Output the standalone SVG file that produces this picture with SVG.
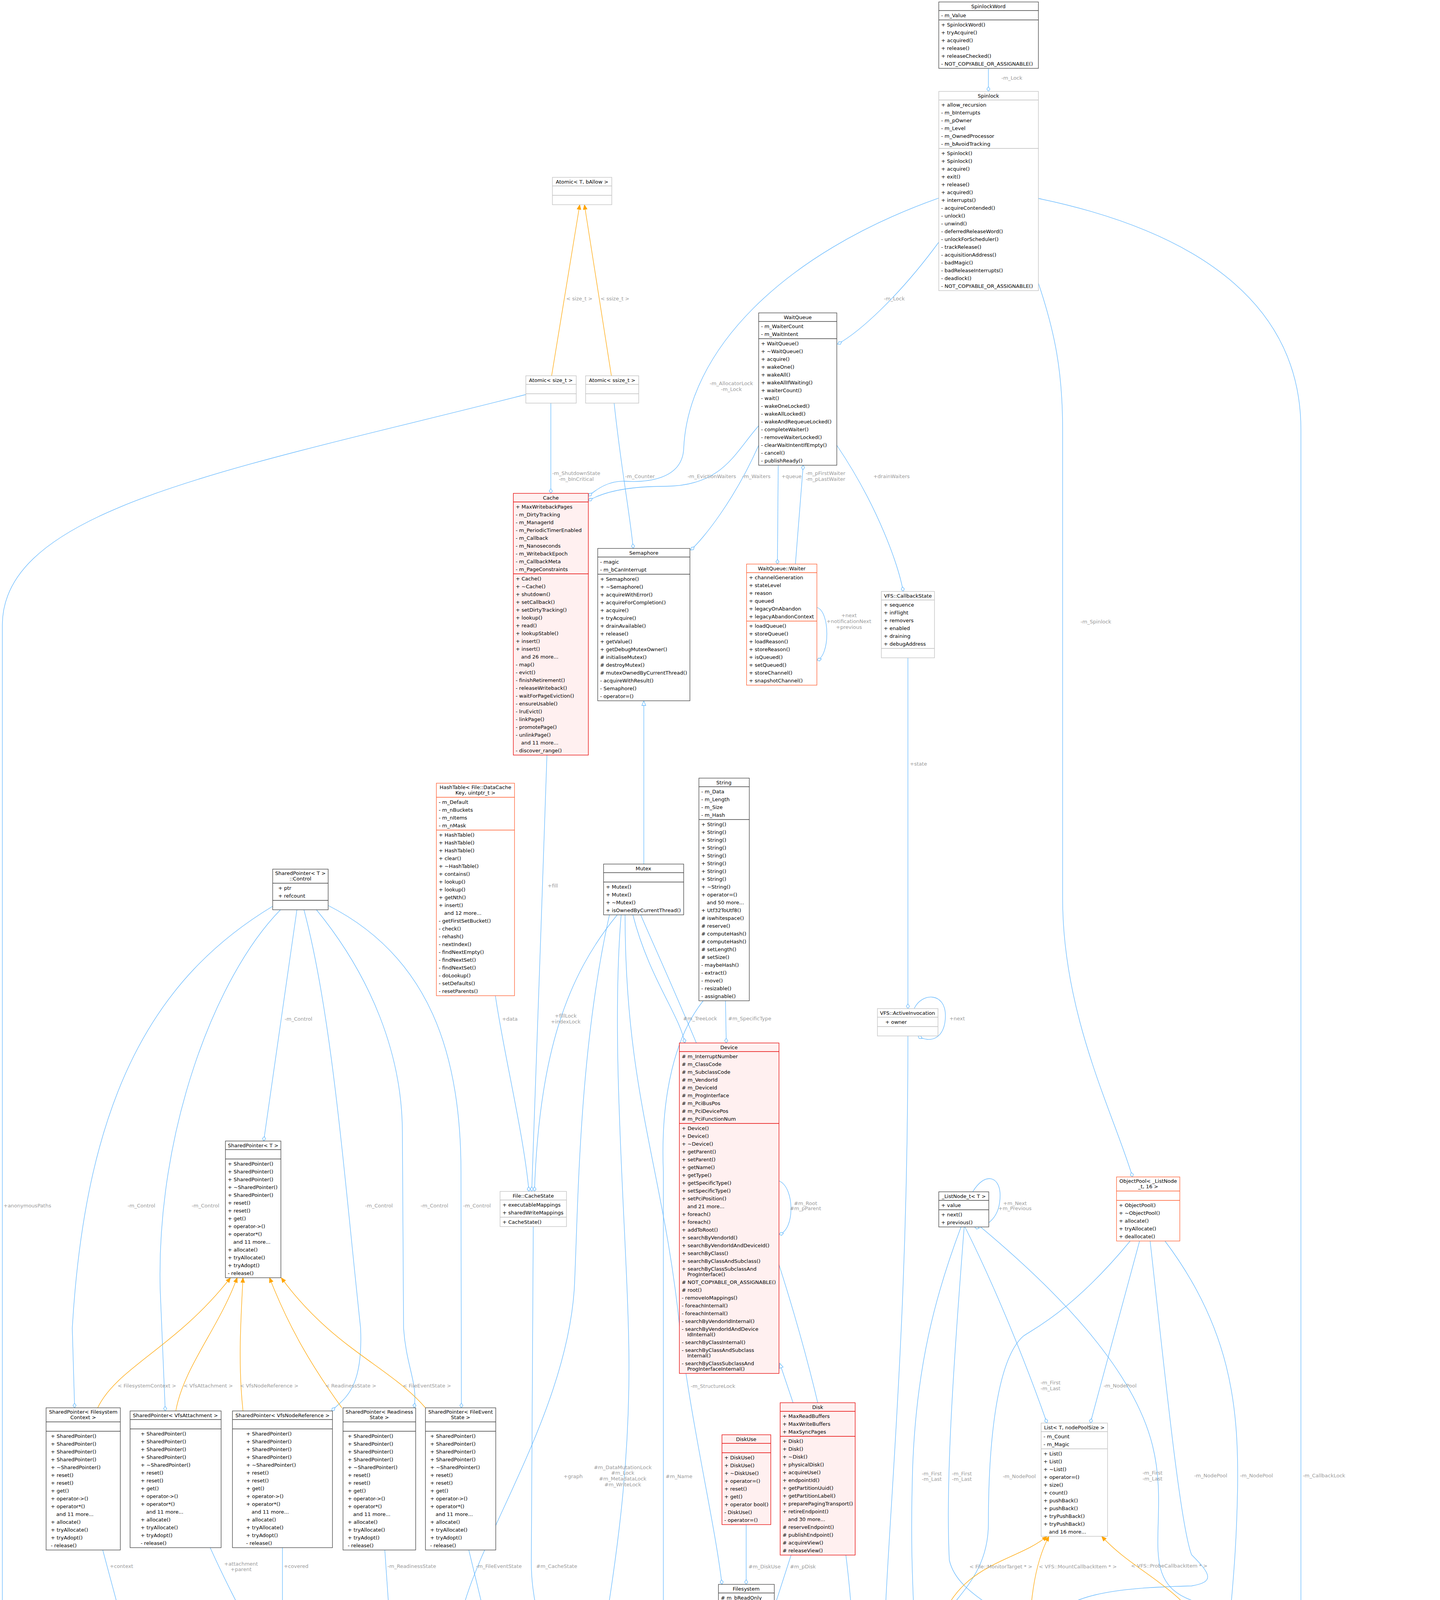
<svg xmlns="http://www.w3.org/2000/svg" width="3686" height="7781" viewBox="0 0 3686 7781">
<style>
text{font-family:"DejaVu Sans","Liberation Sans",sans-serif;font-size:13px;fill:#000}
.h{text-anchor:middle}
.nd rect{fill:#fff;stroke:#404040;stroke-width:1.3}
.nd path{fill:none;stroke:#404040;stroke-width:1.3}
.lt rect,.lt path{stroke:#bfbfbf}
.rd rect{fill:#fff0f0;stroke:#e60000}
.rd path{stroke:#e60000}
.or rect{fill:#fff;stroke:#ff5c2e}
.or path{stroke:#ff5c2e}
.gr rect{fill:#999;stroke:#666}
.gr path{stroke:#666}
#edges path{fill:none;stroke:#63b8ff;stroke-width:1.3}
#edges path.c{marker-end:url(#dia)}
#edges path.t{stroke:#ffa500;marker-end:url(#arr)}
#edges path.i{marker-end:url(#tri)}
#labels text{fill:#9a9a9a;text-anchor:middle}
</style>
<defs>
<marker id="dia" markerUnits="userSpaceOnUse" markerWidth="14" markerHeight="10" refX="13" refY="5" orient="auto"><path d="M1,5 L7,1 L13,5 L7,9 z" fill="#fff" stroke="#63b8ff" stroke-width="1.3"/></marker>
<marker id="arr" markerUnits="userSpaceOnUse" markerWidth="14" markerHeight="12" refX="13" refY="6" orient="auto"><path d="M1,1 L13,6 L1,11 z" fill="#ffa500" stroke="#ffa500"/></marker>
<marker id="tri" markerUnits="userSpaceOnUse" markerWidth="14" markerHeight="12" refX="13" refY="6" orient="auto"><path d="M1,1 L13,6 L1,11 z" fill="#fff" stroke="#63b8ff" stroke-width="1.3"/></marker>
</defs>
<rect width="3686" height="7781" fill="#fff"/>

<g id="edges">
<path class="c" d="M2530,175 L2530,234"/>
<path class="c" d="M2403,620 C2300,760 2200,850 2144,881"/>
<path class="c" d="M2403,507 C2000,650 1760,900 1750,1150 C1745,1230 1650,1235 1600,1232 C1560,1230 1530,1250 1506,1270"/>
<path class="c" d="M2658,725 C2700,850 2720,950 2720,1100 L2720,2300 C2720,2600 2850,2850 2899,3013"/>
<path class="c" d="M2658,508 C3100,600 3330,800 3330,1100 L3330,6800 C3330,7000 2700,7200 2394,7250"/>
<path class="t" d="M1412,962 L1484,524"/>
<path class="t" d="M1565,962 L1496,524"/>
<path class="c" d="M1410,1032 L1410,1263"/>
<path class="c" d="M1572,1032 C1590,1200 1610,1300 1621,1404"/>
<path class="c" d="M1942,1090 C1880,1160 1850,1245 1700,1245 C1600,1245 1540,1262 1506,1282"/>
<path class="c" d="M1942,1140 C1880,1280 1800,1380 1768,1408"/>
<path class="c" d="M1992,1191 L1990,1444"/>
<path class="c" d="M2036,1444 L2056,1191"/>
<path class="c" d="M2142,1140 C2250,1300 2300,1450 2312,1514"/>
<path class="c" d="M2091,1555 C2125,1565 2125,1680 2091,1690"/>
<path class="c" d="M2324,1684 L2324,2582"/>
<path class="c" d="M2340,2582 C2360,2540 2420,2540 2420,2600 C2420,2660 2380,2672 2350,2652"/>
<path class="i" d="M1648,2212 L1648,1794"/>
<path class="c" d="M1400,1933 C1390,2300 1370,2700 1361,3050"/>
<path class="c" d="M1580,2342 C1450,2500 1380,2700 1368,3050"/>
<path class="c" d="M1268,2549 C1290,2700 1340,2900 1354,3050"/>
<path class="c" d="M1365,3140 L1360,4000 C1360,4200 1470,4300 1477,4687"/>
<path class="c" d="M1620,2342 C1660,2500 1740,2600 1753,2670"/>
<path class="c" d="M1857,2562 L1859,2670"/>
<path class="c" d="M1994,3023 C2035,3040 2035,3150 1994,3160"/>
<path class="i" d="M2030,3591 L1996,3490"/>
<path class="c" d="M1600,2342 C1600,2800 1700,3000 1740,3400 C1770,3650 1830,3900 1848,4056"/>
<path class="c" d="M1910,3903 L1910,4056"/>
<path class="c" d="M2025,3981 L1984,4108"/>
<path class="c" d="M1800,2562 C1730,2650 1690,2800 1698,3000 L1698,4300 C1698,4600 1640,4800 1605,4864"/>
<path class="c" d="M1839,4440 C1780,4550 1680,4780 1605,4950"/>
<path class="c" d="M2314,4370 C2100,4500 1800,4700 1605,5038"/>
<path class="c" d="M1603,5092 C1632,5110 1632,5240 1603,5260"/>
<path class="c" d="M1590,2342 C1560,2700 1610,3200 1610,3500 C1610,4000 1500,4300 1491,4687"/>
<path class="c" d="M760,2329 L675,2921"/>
<path class="c" d="M698,2320 C400,2500 220,2800 185,3400 L191,3604"/>
<path class="c" d="M718,2329 C550,2500 400,2900 410,3300 L423,3612"/>
<path class="c" d="M778,2329 C850,2600 880,3000 923,3400 C930,3560 880,3580 849,3612"/>
<path class="c" d="M810,2329 C950,2500 1030,2700 1030,2900 L1033,3400 C1040,3500 1070,3540 1060,3604"/>
<path class="c" d="M840,2318 C1100,2450 1180,2700 1180,3000 L1181,3604"/>
<path class="t" d="M250,3604 C300,3500 450,3450 590,3271"/>
<path class="t" d="M450,3612 C470,3500 560,3400 607,3271"/>
<path class="t" d="M622,3612 C610,3500 615,3400 622,3271"/>
<path class="t" d="M875,3604 C800,3500 740,3400 690,3271"/>
<path class="t" d="M1089,3604 C1000,3500 850,3450 720,3271"/>
<path class="c" d="M263,3968 L348,4285"/>
<path class="c" d="M538,3962 C600,4100 660,4200 700,4285"/>
<path class="c" d="M723,3962 L723,4285"/>
<path class="c" d="M985,3968 L1002,4215"/>
<path class="c" d="M1200,3968 L1250,4175"/>
<path class="c" d="M378,4285 C400,4255 440,4255 440,4315 C440,4380 400,4378 380,4355"/>
<path class="c" d="M743,4285 C765,4255 815,4255 815,4315 C815,4380 765,4378 745,4355"/>
<path class="c" d="M378,4355 C450,4500 600,4750 712,5016"/>
<path class="c" d="M725,4355 L767,5016"/>
<path class="c" d="M1346,1010 C600,1200 6,1300 6,1600 L6,4300 C6,4600 300,4900 704,5137"/>
<path class="c" d="M1560,2342 C1480,2700 1480,3100 1470,3300 C1450,3600 1250,3900 1190,4100 C1130,4300 1050,4600 854,5060"/>
<path class="i" d="M1398,4740 C1250,4600 1120,4500 1070,4425"/>
<path class="i" d="M1400,4700 C1370,4600 1350,4520 1335,4465"/>
<path class="c" d="M777,5346 C800,5800 900,6200 1148,6500"/>
<path class="c" d="M1172,6205 C1100,6000 950,5600 843,5346"/>
<path class="c" d="M2164,7240 C1700,7150 1400,6900 1309,6480"/>
<path class="c" d="M1188,6515 C1180,6800 1700,7200 2164,7262"/>
<path class="c" d="M1470,5677 C1470,6400 1700,7000 2164,7220"/>
<path class="c" d="M1556,5677 L1583,5914"/>
<path class="c" d="M1690,6684 C1620,6500 1583,6300 1583,6004"/>
<path class="c" d="M1605,6004 C1650,6300 1720,6500 1724,6684"/>
<path class="t" d="M1756,6684 L1797,6036"/>
<path class="c" d="M1766,6848 C1850,7100 2050,7200 2164,7280"/>
<path class="c" d="M1942,4586 C1975,4700 1976,5000 1976,6000 L1976,6900 C1976,7000 2100,7050 2164,7080"/>
<path class="c" d="M1640,2342 C1750,2600 2186,3500 2186,4300 L2186,6800 C2186,6950 2206,7000 2206,7055"/>
<path class="c" d="M2324,2652 C2324,3500 2260,4000 2262,4300 C2265,4500 2413,4600 2413,4820 C2413,5000 2377,5100 2377,5300 L2370,6800 C2368,6950 2352,7000 2352,7055"/>
<path class="c" d="M2610,4471 C2560,4900 2540,5300 2540,6500 C2540,6900 2440,7100 2394,7220"/>
<path class="c" d="M2750,6880 C2600,7000 2450,7150 2394,7276"/>
<path class="c" d="M3110,4469 L3100,6500 C3100,6900 2700,7200 2394,7380"/>
<path class="c" d="M3440,6861 C3400,7100 2800,7300 2394,7398"/>
<path class="c" d="M2394,7350 C2422,7370 2422,7460 2394,7475"/>
<path class="t" d="M2750,6600 C2700,6400 2700,6300 2716,6184"/>
<path class="t" d="M3475,6671 L3578,6052"/>
<path class="c" d="M3462,5243 L3577,5862"/>
<path class="c" d="M3448,5243 C3440,5600 3440,6300 3455,6671"/>
<path class="c" d="M2830,4375 L2897,5097"/>
<path class="c" d="M2810,4375 C2760,4600 2740,4800 2740,5200 C2740,5500 2755,5700 2760,5734"/>
<path class="c" d="M2865,4375 C2950,4500 3000,4600 3025,4700 C3050,5000 3030,5800 3030,6000 C3030,6300 2980,6450 2936,6533"/>
<path class="c" d="M2890,5267 L2815,5734"/>
<path class="c" d="M2912,5267 C2950,5600 2950,6000 2910,6533"/>
<path class="c" d="M2900,4290 C2950,4250 2975,4320 2950,4360 C2925,4385 2900,4378 2880,4375"/>
<path class="c" d="M2470,3141 C2550,3300 2630,3500 2680,3643"/>
<path class="c" d="M2460,3141 C2400,3300 2340,3500 2335,3800 C2330,4000 2340,4100 2340,4173"/>
<path class="c" d="M2468,3141 C2440,3500 2420,3800 2430,3994 C2450,4080 2560,4110 2596,4167"/>
<path class="c" d="M2510,3141 C2700,3300 2900,3500 2950,3700 C3000,3900 2900,4050 3060,4100 C3120,4120 3110,4140 3115,4165"/>
<path class="c" d="M2490,3051 C2520,3000 2560,3010 2560,3060 C2560,3130 2510,3145 2495,3141"/>
<path class="c" d="M2917,3177 L2791,3643"/>
<path class="c" d="M2893,3177 C2750,3350 2650,3400 2620,3420 C2550,3480 2530,3700 2530,3900 C2530,4050 2420,4100 2402,4173"/>
<path class="c" d="M2982,3177 C3150,3400 3170,3600 3168,3800 C3165,4000 3150,4100 3147,4165"/>
<path class="c" d="M2944,3177 C2980,3500 3020,3900 3050,3980 C3100,4030 3110,4050 3050,4060 C2850,4065 2720,4080 2673,4167"/>
<path class="t" d="M2400,4173 C2450,4000 2600,4000 2680,3933"/>
<path class="t" d="M2636,4167 C2640,4050 2660,3980 2685,3933"/>
<path class="t" d="M3082,4165 C3000,4050 2900,4020 2820,3933"/>
</g>

<g id="labels">
<text x="2590" y="204">-m_Lock</text>
<text x="2289" y="769">-m_Lock</text>
<text x="1872" y="986">-m_AllocatorLock</text><text x="1872" y="1001">-m_Lock</text>
<text x="2805" y="1596">-m_Spinlock</text>
<text x="3389" y="3782">-m_CallbackLock</text>
<text x="1483" y="769">&lt; size_t &gt;</text>
<text x="1574" y="769">&lt; ssize_t &gt;</text>
<text x="1475" y="1216">-m_ShutdownState</text><text x="1475" y="1231">-m_bInCritical</text>
<text x="1638" y="1224">-m_Counter</text>
<text x="1822" y="1224">-m_EvictionWaiters</text>
<text x="1936" y="1224">-m_Waiters</text>
<text x="2026" y="1224">+queue</text>
<text x="2113" y="1216">-m_pFirstWaiter</text><text x="2113" y="1231">-m_pLastWaiter</text>
<text x="2282" y="1224">+drainWaiters</text>
<text x="2173" y="1580">+next</text><text x="2173" y="1595">+notificationNext</text><text x="2173" y="1610">+previous</text>
<text x="2351" y="1960">+state</text>
<text x="2450" y="2612">+next</text>
<text x="1415" y="2272">+fill</text>
<text x="1448" y="2605">+fillLock</text><text x="1448" y="2620">+indexLock</text>
<text x="1305" y="2613">+data</text>
<text x="1425" y="4014">#m_CacheState</text>
<text x="1792" y="2612">#m_TreeLock</text>
<text x="1919" y="2612">#m_SpecificType</text>
<text x="2062" y="3085">#m_Root</text><text x="2062" y="3098">#m_pParent</text>
<text x="1825" y="3553">-m_StructureLock</text>
<text x="1957" y="4015">#m_DiskUse</text>
<text x="2055" y="4015">#m_pDisk</text>
<text x="1738" y="3784">#m_Name</text>
<text x="1594" y="3761">#m_DataMutationLock</text><text x="1594" y="3775">#m_Lock</text><text x="1594" y="3790">#m_MetadataLock</text><text x="1594" y="3805">#m_WriteLock</text>
<text x="1467" y="3784">+graph</text>
<text x="1822" y="4632">#m_pFilesystem</text>
<text x="2090" y="4632">#m_MonitorTargets</text>
<text x="1702" y="5171">#m_pDetachedParent</text><text x="1702" y="5185">#m_pParent</text>
<text x="764" y="2613">-m_Control</text>
<text x="362" y="3091">-m_Control</text>
<text x="526" y="3091">-m_Control</text>
<text x="970" y="3091">-m_Control</text>
<text x="1112" y="3091">-m_Control</text>
<text x="1221" y="3091">-m_Control</text>
<text x="70" y="3091">+anonymousPaths</text>
<text x="376" y="3552">&lt; FilesystemContext &gt;</text>
<text x="533" y="3552">&lt; VfsAttachment &gt;</text>
<text x="689" y="3552">&lt; VfsNodeReference &gt;</text>
<text x="898" y="3552">&lt; ReadinessState &gt;</text>
<text x="1093" y="3552">&lt; FileEventState &gt;</text>
<text x="311" y="4014">+context</text>
<text x="617" y="4008">+attachment</text><text x="617" y="4022">+parent</text>
<text x="758" y="4014">+covered</text>
<text x="1054" y="4014">-m_ReadinessState</text>
<text x="1277" y="4014">-m_FileEventState</text>
<text x="464" y="4317">+next</text>
<text x="840" y="4317">+next</text>
<text x="558" y="4633">+contexts</text>
<text x="795" y="4633">+attachments</text>
<text x="848" y="5703">-m_State</text>
<text x="1004" y="5703">+view</text>
<text x="1579" y="5702">+file</text>
<text x="1531" y="6356">-m_EmptyFile</text>
<text x="1636" y="6356">+next</text>
<text x="1729" y="6356">-m_Pointer</text>
<text x="1859" y="6356">&lt; VFS::TrackedFile &gt;</text>
<text x="1451" y="6761">-m_Vfs</text>
<text x="1904" y="7022">-m_TrackedFiles</text>
<text x="2047" y="5956">-m_pRootFilesystem</text>
<text x="2262" y="4610">-m_MountMutationLock</text><text x="2262" y="4625">-m_MountTableLock</text><text x="2262" y="4640">-m_PathMutationLock</text><text x="2262" y="4655">-m_TrackedFilesLock</text>
<text x="2449" y="4632">-m_pActiveCallbacks</text>
<text x="2610" y="5956">-m_MountCallbacks</text>
<text x="2654" y="7022">-m_Mounts</text>
<text x="3168" y="5955">-m_ProbeCallbacks</text>
<text x="3412" y="7022">-m_FindCache</text>
<text x="2461" y="7413">-m_Instance</text>
<text x="2811" y="6354">&lt; Filesystem *, MountInfo * &gt;</text>
<text x="3608" y="6354">&lt; String, File * &gt;</text>
<text x="3583" y="5702">-m_Slots</text>
<text x="3471" y="5955">-m_Slots</text>
<text x="2910" y="4617">+value</text><text x="2910" y="4631">-pNode</text><text x="2910" y="4645">-pPreviousNode</text>
<text x="2781" y="5178">-root</text>
<text x="3052" y="5702">-root</text>
<text x="2862" y="5702">-m_Begin</text>
<text x="2977" y="5955">-m_Begin</text>
<text x="2964" y="4300">+leftChild</text><text x="2964" y="4315">+parent</text><text x="2964" y="4329">+rightChild</text>
<text x="2689" y="3544">-m_First</text><text x="2689" y="3559">-m_Last</text>
<text x="2385" y="3777">-m_First</text><text x="2385" y="3791">-m_Last</text>
<text x="2462" y="3777">-m_First</text><text x="2462" y="3791">-m_Last</text>
<text x="2950" y="3775">-m_First</text><text x="2950" y="3790">-m_Last</text>
<text x="2598" y="3085">+m_Next</text><text x="2598" y="3098">+m_Previous</text>
<text x="2867" y="3552">-m_NodePool</text>
<text x="2609" y="3784">-m_NodePool</text>
<text x="3099" y="3782">-m_NodePool</text>
<text x="3216" y="3782">-m_NodePool</text>
<text x="2562" y="4015">&lt; File::MonitorTarget * &gt;</text>
<text x="2759" y="4015">&lt; VFS::MountCallbackItem * &gt;</text>
<text x="2993" y="4013">&lt; VFS::ProbeCallbackItem * &gt;</text>
</g>

<g id="n_spinlockword" class="nd"><rect x="2403" y="5" width="255" height="170"/><path d="M2403,27h255M2403,51h255"/><text class="h" x="2530" y="21">SpinlockWord</text><text y="44"><tspan x="2409">- m_Value</tspan></text><text y="68"><tspan x="2409">+ SpinlockWord()</tspan><tspan x="2409" dy="20">+ tryAcquire()</tspan><tspan x="2409" dy="20">+ acquired()</tspan><tspan x="2409" dy="20">+ release()</tspan><tspan x="2409" dy="20">+ releaseChecked()</tspan><tspan x="2409" dy="20">- NOT_COPYABLE_OR_ASSIGNABLE()</tspan></text></g>

<g id="n_spinlock" class="nd lt"><rect x="2403" y="234" width="255" height="510"/><path d="M2403,256h255M2403,380h255"/><text class="h" x="2530" y="250">Spinlock</text><text y="273"><tspan x="2409">+ allow_recursion</tspan><tspan x="2409" dy="20">- m_bInterrupts</tspan><tspan x="2409" dy="20">- m_pOwner</tspan><tspan x="2409" dy="20">- m_Level</tspan><tspan x="2409" dy="20">- m_OwnedProcessor</tspan><tspan x="2409" dy="20">- m_bAvoidTracking</tspan></text><text y="397"><tspan x="2409">+ Spinlock()</tspan><tspan x="2409" dy="20">+ Spinlock()</tspan><tspan x="2409" dy="20">+ acquire()</tspan><tspan x="2409" dy="20">+ exit()</tspan><tspan x="2409" dy="20">+ release()</tspan><tspan x="2409" dy="20">+ acquired()</tspan><tspan x="2409" dy="20">+ interrupts()</tspan><tspan x="2409" dy="20">- acquireContended()</tspan><tspan x="2409" dy="20">- unlock()</tspan><tspan x="2409" dy="20">- unwind()</tspan><tspan x="2409" dy="20">- deferredReleaseWord()</tspan><tspan x="2409" dy="20">- unlockForScheduler()</tspan><tspan x="2409" dy="20">- trackRelease()</tspan><tspan x="2409" dy="20">- acquisitionAddress()</tspan><tspan x="2409" dy="20">- badMagic()</tspan><tspan x="2409" dy="20">- badReleaseInterrupts()</tspan><tspan x="2409" dy="20">- deadlock()</tspan><tspan x="2409" dy="20">- NOT_COPYABLE_OR_ASSIGNABLE()</tspan></text></g>

<g id="n_atomic" class="nd lt"><rect x="1414" y="454" width="152" height="70"/><path d="M1414,476h152M1414,500h152"/><text class="h" x="1490" y="470">Atomic&lt; T, bAllow &gt;</text></g>
<g id="n_atomic_size" class="nd lt"><rect x="1346" y="962" width="129" height="70"/><path d="M1346,984h129M1346,1008h129"/><text class="h" x="1410" y="978">Atomic&lt; size_t &gt;</text></g>
<g id="n_atomic_ssize" class="nd lt"><rect x="1499" y="962" width="136" height="70"/><path d="M1499,984h136M1499,1008h136"/><text class="h" x="1567" y="978">Atomic&lt; ssize_t &gt;</text></g>

<g id="n_waitqueue" class="nd"><rect x="1942" y="801" width="200" height="390"/><path d="M1942,823h200M1942,867h200"/><text class="h" x="2042" y="817">WaitQueue</text><text y="840"><tspan x="1948">- m_WaiterCount</tspan><tspan x="1948" dy="20">- m_WaitIntent</tspan></text><text y="884"><tspan x="1948">+ WaitQueue()</tspan><tspan x="1948" dy="20">+ ~WaitQueue()</tspan><tspan x="1948" dy="20">+ acquire()</tspan><tspan x="1948" dy="20">+ wakeOne()</tspan><tspan x="1948" dy="20">+ wakeAll()</tspan><tspan x="1948" dy="20">+ wakeAllIfWaiting()</tspan><tspan x="1948" dy="20">+ waiterCount()</tspan><tspan x="1948" dy="20">- wait()</tspan><tspan x="1948" dy="20">- wakeOneLocked()</tspan><tspan x="1948" dy="20">- wakeAllLocked()</tspan><tspan x="1948" dy="20">- wakeAndRequeueLocked()</tspan><tspan x="1948" dy="20">- completeWaiter()</tspan><tspan x="1948" dy="20">- removeWaiterLocked()</tspan><tspan x="1948" dy="20">- clearWaitIntentIfEmpty()</tspan><tspan x="1948" dy="20">- cancel()</tspan><tspan x="1948" dy="20">- publishReady()</tspan></text></g>

<g id="n_cache" class="nd rd"><rect x="1314" y="1263" width="192" height="670"/><path d="M1314,1285h192M1314,1469h192"/><text class="h" x="1410" y="1279">Cache</text><text y="1302"><tspan x="1320">+ MaxWritebackPages</tspan><tspan x="1320" dy="20">- m_DirtyTracking</tspan><tspan x="1320" dy="20">- m_ManagerId</tspan><tspan x="1320" dy="20">- m_PeriodicTimerEnabled</tspan><tspan x="1320" dy="20">- m_Callback</tspan><tspan x="1320" dy="20">- m_Nanoseconds</tspan><tspan x="1320" dy="20">- m_WritebackEpoch</tspan><tspan x="1320" dy="20">- m_CallbackMeta</tspan><tspan x="1320" dy="20">- m_PageConstraints</tspan></text><text y="1486"><tspan x="1320">+ Cache()</tspan><tspan x="1320" dy="20">+ ~Cache()</tspan><tspan x="1320" dy="20">+ shutdown()</tspan><tspan x="1320" dy="20">+ setCallback()</tspan><tspan x="1320" dy="20">+ setDirtyTracking()</tspan><tspan x="1320" dy="20">+ lookup()</tspan><tspan x="1320" dy="20">+ read()</tspan><tspan x="1320" dy="20">+ lookupStable()</tspan><tspan x="1320" dy="20">+ insert()</tspan><tspan x="1320" dy="20">+ insert()</tspan><tspan x="1334" dy="20">and 26 more...</tspan><tspan x="1320" dy="20">- map()</tspan><tspan x="1320" dy="20">- evict()</tspan><tspan x="1320" dy="20">- finishRetirement()</tspan><tspan x="1320" dy="20">- releaseWriteback()</tspan><tspan x="1320" dy="20">- waitForPageEviction()</tspan><tspan x="1320" dy="20">- ensureUsable()</tspan><tspan x="1320" dy="20">- lruEvict()</tspan><tspan x="1320" dy="20">- linkPage()</tspan><tspan x="1320" dy="20">- promotePage()</tspan><tspan x="1320" dy="20">- unlinkPage()</tspan><tspan x="1334" dy="20">and 11 more...</tspan><tspan x="1320" dy="20">- discover_range()</tspan></text></g>

<g id="n_semaphore" class="nd"><rect x="1530" y="1404" width="236" height="390"/><path d="M1530,1426h236M1530,1470h236"/><text class="h" x="1648" y="1420">Semaphore</text><text y="1443"><tspan x="1536">- magic</tspan><tspan x="1536" dy="20">- m_bCanInterrupt</tspan></text><text y="1487"><tspan x="1536">+ Semaphore()</tspan><tspan x="1536" dy="20">+ ~Semaphore()</tspan><tspan x="1536" dy="20">+ acquireWithError()</tspan><tspan x="1536" dy="20">+ acquireForCompletion()</tspan><tspan x="1536" dy="20">+ acquire()</tspan><tspan x="1536" dy="20">+ tryAcquire()</tspan><tspan x="1536" dy="20">+ drainAvailable()</tspan><tspan x="1536" dy="20">+ release()</tspan><tspan x="1536" dy="20">+ getValue()</tspan><tspan x="1536" dy="20">+ getDebugMutexOwner()</tspan><tspan x="1536" dy="20"># initialiseMutex()</tspan><tspan x="1536" dy="20"># destroyMutex()</tspan><tspan x="1536" dy="20"># mutexOwnedByCurrentThread()</tspan><tspan x="1536" dy="20">- acquireWithResult()</tspan><tspan x="1536" dy="20">- Semaphore()</tspan><tspan x="1536" dy="20">- operator=()</tspan></text></g>

<g id="n_waiter" class="nd or"><rect x="1911" y="1444" width="180" height="310"/><path d="M1911,1466h180M1911,1590h180"/><text class="h" x="2001" y="1460">WaitQueue::Waiter</text><text y="1483"><tspan x="1917">+ channelGeneration</tspan><tspan x="1917" dy="20">+ stateLevel</tspan><tspan x="1917" dy="20">+ reason</tspan><tspan x="1917" dy="20">+ queued</tspan><tspan x="1917" dy="20">+ legacyOnAbandon</tspan><tspan x="1917" dy="20">+ legacyAbandonContext</tspan></text><text y="1607"><tspan x="1917">+ loadQueue()</tspan><tspan x="1917" dy="20">+ storeQueue()</tspan><tspan x="1917" dy="20">+ loadReason()</tspan><tspan x="1917" dy="20">+ storeReason()</tspan><tspan x="1917" dy="20">+ isQueued()</tspan><tspan x="1917" dy="20">+ setQueued()</tspan><tspan x="1917" dy="20">+ storeChannel()</tspan><tspan x="1917" dy="20">+ snapshotChannel()</tspan></text></g>

<g id="n_callbackstate" class="nd lt"><rect x="2256" y="1514" width="136" height="170"/><path d="M2256,1536h136M2256,1660h136"/><text class="h" x="2324" y="1530">VFS::CallbackState</text><text y="1553"><tspan x="2262">+ sequence</tspan><tspan x="2262" dy="20">+ inFlight</tspan><tspan x="2262" dy="20">+ removers</tspan><tspan x="2262" dy="20">+ enabled</tspan><tspan x="2262" dy="20">+ draining</tspan><tspan x="2262" dy="20">+ debugAddress</tspan></text></g>

<g id="n_mutex" class="nd"><rect x="1545" y="2212" width="205" height="130"/><path d="M1545,2234h205M1545,2258h205"/><text class="h" x="1647" y="2228">Mutex</text><text y="2275"><tspan x="1551">+ Mutex()</tspan><tspan x="1551" dy="20">+ Mutex()</tspan><tspan x="1551" dy="20">+ ~Mutex()</tspan><tspan x="1551" dy="20">+ isOwnedByCurrentThread()</tspan></text></g>

<g id="n_string" class="nd"><rect x="1789" y="1992" width="129" height="570"/><path d="M1789,2014h129M1789,2098h129"/><text class="h" x="1853" y="2008">String</text><text y="2031"><tspan x="1795">- m_Data</tspan><tspan x="1795" dy="20">- m_Length</tspan><tspan x="1795" dy="20">- m_Size</tspan><tspan x="1795" dy="20">- m_Hash</tspan></text><text y="2115"><tspan x="1795">+ String()</tspan><tspan x="1795" dy="20">+ String()</tspan><tspan x="1795" dy="20">+ String()</tspan><tspan x="1795" dy="20">+ String()</tspan><tspan x="1795" dy="20">+ String()</tspan><tspan x="1795" dy="20">+ String()</tspan><tspan x="1795" dy="20">+ String()</tspan><tspan x="1795" dy="20">+ String()</tspan><tspan x="1795" dy="20">+ ~String()</tspan><tspan x="1795" dy="20">+ operator=()</tspan><tspan x="1809" dy="20">and 50 more...</tspan><tspan x="1795" dy="20">+ Utf32ToUtf8()</tspan><tspan x="1795" dy="20"># iswhitespace()</tspan><tspan x="1795" dy="20"># reserve()</tspan><tspan x="1795" dy="20"># computeHash()</tspan><tspan x="1795" dy="20"># computeHash()</tspan><tspan x="1795" dy="20"># setLength()</tspan><tspan x="1795" dy="20"># setSize()</tspan><tspan x="1795" dy="20">- maybeHash()</tspan><tspan x="1795" dy="20">- extract()</tspan><tspan x="1795" dy="20">- move()</tspan><tspan x="1795" dy="20">- resizable()</tspan><tspan x="1795" dy="20">- assignable()</tspan></text></g>

<g id="n_activeinvocation" class="nd lt"><rect x="2246" y="2582" width="155" height="70"/><path d="M2246,2604h155M2246,2628h155"/><text class="h" x="2323" y="2598">VFS::ActiveInvocation</text><text y="2621"><tspan x="2266">+ owner</tspan></text></g>

<g id="n_hashtable" class="nd or"><rect x="1117" y="2005" width="200" height="544"/><path d="M1117,2041h200M1117,2125h200"/><text class="h" x="1217" y="2020">HashTable&lt; File::DataCache</text><text class="h" x="1217" y="2034">Key, uintptr_t &gt;</text><text y="2058"><tspan x="1123">- m_Default</tspan><tspan x="1123" dy="20">- m_nBuckets</tspan><tspan x="1123" dy="20">- m_nItems</tspan><tspan x="1123" dy="20">- m_nMask</tspan></text><text y="2142"><tspan x="1123">+ HashTable()</tspan><tspan x="1123" dy="20">+ HashTable()</tspan><tspan x="1123" dy="20">+ HashTable()</tspan><tspan x="1123" dy="20">+ clear()</tspan><tspan x="1123" dy="20">+ ~HashTable()</tspan><tspan x="1123" dy="20">+ contains()</tspan><tspan x="1123" dy="20">+ lookup()</tspan><tspan x="1123" dy="20">+ lookup()</tspan><tspan x="1123" dy="20">+ getNth()</tspan><tspan x="1123" dy="20">+ insert()</tspan><tspan x="1137" dy="20">and 12 more...</tspan><tspan x="1123" dy="20">- getFirstSetBucket()</tspan><tspan x="1123" dy="20">- check()</tspan><tspan x="1123" dy="20">- rehash()</tspan><tspan x="1123" dy="20">- nextIndex()</tspan><tspan x="1123" dy="20">- findNextEmpty()</tspan><tspan x="1123" dy="20">- findNextSet()</tspan><tspan x="1123" dy="20">- findNextSet()</tspan><tspan x="1123" dy="20">- doLookup()</tspan><tspan x="1123" dy="20">- setDefaults()</tspan><tspan x="1123" dy="20">- resetParents()</tspan></text></g>

<g id="n_sp_control" class="nd"><rect x="698" y="2225" width="142" height="104"/><path d="M698,2261h142M698,2305h142"/><text class="h" x="769" y="2240">SharedPointer&lt; T &gt;</text><text class="h" x="769" y="2254">::Control</text><text y="2278"><tspan x="712">+ ptr</tspan><tspan x="712" dy="20">+ refcount</tspan></text></g>

<g id="n_sp_t" class="nd"><rect x="577" y="2921" width="142" height="350"/><path d="M577,2943h142M577,2967h142"/><text class="h" x="648" y="2937">SharedPointer&lt; T &gt;</text><text y="2984"><tspan x="583">+ SharedPointer()</tspan><tspan x="583" dy="20">+ SharedPointer()</tspan><tspan x="583" dy="20">+ SharedPointer()</tspan><tspan x="583" dy="20">+ ~SharedPointer()</tspan><tspan x="583" dy="20">+ SharedPointer()</tspan><tspan x="583" dy="20">+ reset()</tspan><tspan x="583" dy="20">+ reset()</tspan><tspan x="583" dy="20">+ get()</tspan><tspan x="583" dy="20">+ operator-&gt;()</tspan><tspan x="583" dy="20">+ operator*()</tspan><tspan x="597" dy="20">and 11 more...</tspan><tspan x="583" dy="20">+ allocate()</tspan><tspan x="583" dy="20">+ tryAllocate()</tspan><tspan x="583" dy="20">+ tryAdopt()</tspan><tspan x="583" dy="20">- release()</tspan></text></g>

<g id="n_cachestate" class="nd lt"><rect x="1280" y="3050" width="170" height="90"/><path d="M1280,3072h170M1280,3116h170"/><text class="h" x="1365" y="3066">File::CacheState</text><text y="3089"><tspan x="1286">+ executableMappings</tspan><tspan x="1286" dy="20">+ sharedWriteMappings</tspan></text><text y="3133"><tspan x="1286">+ CacheState()</tspan></text></g>

<g id="n_device" class="nd rd"><rect x="1739" y="2670" width="255" height="846"/><path d="M1739,2692h255M1739,2876h255"/><text class="h" x="1866" y="2686">Device</text><text y="2709"><tspan x="1745"># m_InterruptNumber</tspan><tspan x="1745" dy="20"># m_ClassCode</tspan><tspan x="1745" dy="20"># m_SubclassCode</tspan><tspan x="1745" dy="20"># m_VendorId</tspan><tspan x="1745" dy="20"># m_DeviceId</tspan><tspan x="1745" dy="20"># m_ProgInterface</tspan><tspan x="1745" dy="20"># m_PciBusPos</tspan><tspan x="1745" dy="20"># m_PciDevicePos</tspan><tspan x="1745" dy="20"># m_PciFunctionNum</tspan></text><text y="2893"><tspan x="1745">+ Device()</tspan><tspan x="1745" dy="20">+ Device()</tspan><tspan x="1745" dy="20">+ ~Device()</tspan><tspan x="1745" dy="20">+ getParent()</tspan><tspan x="1745" dy="20">+ setParent()</tspan><tspan x="1745" dy="20">+ getName()</tspan><tspan x="1745" dy="20">+ getType()</tspan><tspan x="1745" dy="20">+ getSpecificType()</tspan><tspan x="1745" dy="20">+ setSpecificType()</tspan><tspan x="1745" dy="20">+ setPciPosition()</tspan><tspan x="1759" dy="20">and 21 more...</tspan><tspan x="1745" dy="20">+ foreach()</tspan><tspan x="1745" dy="20">+ foreach()</tspan><tspan x="1745" dy="20">+ addToRoot()</tspan><tspan x="1745" dy="20">+ searchByVendorId()</tspan><tspan x="1745" dy="20">+ searchByVendorIdAndDeviceId()</tspan><tspan x="1745" dy="20">+ searchByClass()</tspan><tspan x="1745" dy="20">+ searchByClassAndSubclass()</tspan><tspan x="1745" dy="20">+ searchByClassSubclassAnd</tspan><tspan x="1759" dy="14">ProgInterface()</tspan><tspan x="1745" dy="20"># NOT_COPYABLE_OR_ASSIGNABLE()</tspan><tspan x="1745" dy="20"># root()</tspan><tspan x="1745" dy="20">- removeIoMappings()</tspan><tspan x="1745" dy="20">- foreachInternal()</tspan><tspan x="1745" dy="20">- foreachInternal()</tspan><tspan x="1745" dy="20">- searchByVendorIdInternal()</tspan><tspan x="1745" dy="20">- searchByVendorIdAndDevice</tspan><tspan x="1759" dy="14">IdInternal()</tspan><tspan x="1745" dy="20">- searchByClassInternal()</tspan><tspan x="1745" dy="20">- searchByClassAndSubclass</tspan><tspan x="1759" dy="14">Internal()</tspan><tspan x="1745" dy="20">- searchByClassSubclassAnd</tspan><tspan x="1759" dy="14">ProgInterfaceInternal()</tspan></text></g>

<g id="n_disk" class="nd rd"><rect x="1997" y="3591" width="192" height="390"/><path d="M1997,3613h192M1997,3677h192"/><text class="h" x="2093" y="3607">Disk</text><text y="3630"><tspan x="2003">+ MaxReadBuffers</tspan><tspan x="2003" dy="20">+ MaxWriteBuffers</tspan><tspan x="2003" dy="20">+ MaxSyncPages</tspan></text><text y="3694"><tspan x="2003">+ Disk()</tspan><tspan x="2003" dy="20">+ Disk()</tspan><tspan x="2003" dy="20">+ ~Disk()</tspan><tspan x="2003" dy="20">+ physicalDisk()</tspan><tspan x="2003" dy="20">+ acquireUse()</tspan><tspan x="2003" dy="20">+ endpointId()</tspan><tspan x="2003" dy="20">+ getPartitionUuid()</tspan><tspan x="2003" dy="20">+ getPartitionLabel()</tspan><tspan x="2003" dy="20">+ preparePagingTransport()</tspan><tspan x="2003" dy="20">+ retireEndpoint()</tspan><tspan x="2017" dy="20">and 30 more...</tspan><tspan x="2003" dy="20"># reserveEndpoint()</tspan><tspan x="2003" dy="20"># publishEndpoint()</tspan><tspan x="2003" dy="20"># acquireView()</tspan><tspan x="2003" dy="20"># releaseView()</tspan></text></g>

<g id="n_diskuse" class="nd rd"><rect x="1848" y="3673" width="125" height="230"/><path d="M1848,3695h125M1848,3719h125"/><text class="h" x="1910" y="3689">DiskUse</text><text y="3736"><tspan x="1854">+ DiskUse()</tspan><tspan x="1854" dy="20">+ DiskUse()</tspan><tspan x="1854" dy="20">+ ~DiskUse()</tspan><tspan x="1854" dy="20">+ operator=()</tspan><tspan x="1854" dy="20">+ reset()</tspan><tspan x="1854" dy="20">+ get()</tspan><tspan x="1854" dy="20">+ operator bool()</tspan><tspan x="1854" dy="20">- DiskUse()</tspan><tspan x="1854" dy="20">- operator=()</tspan></text></g>

<g id="n_filesystem" class="nd"><rect x="1839" y="4056" width="143" height="530"/><path d="M1839,4078h143M1839,4102h143"/><text class="h" x="1910" y="4072">Filesystem</text><text y="4095"><tspan x="1845"># m_bReadOnly</tspan></text><text y="4119"><tspan x="1845">+ Filesystem()</tspan><tspan x="1845" dy="20">+ ~Filesystem()</tspan><tspan x="1845" dy="20">+ initialise()</tspan><tspan x="1845" dy="20">+ find()</tspan><tspan x="1845" dy="20">+ find()</tspan><tspan x="1845" dy="20">+ find()</tspan><tspan x="1845" dy="20">+ find()</tspan><tspan x="1845" dy="20">+ findRetained()</tspan><tspan x="1845" dy="20">+ getRoot()</tspan><tspan x="1845" dy="20">+ getVolumeLabel()</tspan><tspan x="1859" dy="20">and 18 more...</tspan><tspan x="1845" dy="20"># createFile()</tspan><tspan x="1845" dy="20"># createDirectory()</tspan><tspan x="1845" dy="20"># createSymlink()</tspan><tspan x="1845" dy="20"># createLink()</tspan><tspan x="1845" dy="20"># removeNode()</tspan><tspan x="1845" dy="20"># renameNode()</tspan><tspan x="1845" dy="20">- removeChild()</tspan><tspan x="1845" dy="20">- renameChildren()</tspan><tspan x="1845" dy="20">- findNode()</tspan><tspan x="1845" dy="20">- findNode()</tspan><tspan x="1845" dy="20">- findParent()</tspan><tspan x="1845" dy="20">- Filesystem()</tspan><tspan x="1845" dy="20">- operator=()</tspan></text></g>

<g id="n_listnode" class="nd"><rect x="2403" y="3051" width="128" height="90"/><path d="M2403,3073h128M2403,3097h128"/><text class="h" x="2467" y="3067">_ListNode_t&lt; T &gt;</text><text y="3090"><tspan x="2409">+ value</tspan></text><text y="3114"><tspan x="2409">+ next()</tspan><tspan x="2409" dy="20">+ previous()</tspan></text></g>

<g id="n_objectpool" class="nd or"><rect x="2858" y="3013" width="162" height="164"/><path d="M2858,3049h162M2858,3073h162"/><text class="h" x="2939" y="3028">ObjectPool&lt; _ListNode</text><text class="h" x="2939" y="3042">_t, 16 &gt;</text><text y="3090"><tspan x="2864">+ ObjectPool()</tspan><tspan x="2864" dy="20">+ ~ObjectPool()</tspan><tspan x="2864" dy="20">+ allocate()</tspan><tspan x="2864" dy="20">+ tryAllocate()</tspan><tspan x="2864" dy="20">+ deallocate()</tspan></text></g>

<g id="n_list_t" class="nd lt"><rect x="2665" y="3643" width="170" height="290"/><path d="M2665,3665h170M2665,3709h170"/><text class="h" x="2750" y="3659">List&lt; T, nodePoolSize &gt;</text><text y="3682"><tspan x="2671">- m_Count</tspan><tspan x="2671" dy="20">- m_Magic</tspan></text><text y="3726"><tspan x="2671">+ List()</tspan><tspan x="2671" dy="20">+ List()</tspan><tspan x="2671" dy="20">+ ~List()</tspan><tspan x="2671" dy="20">+ operator=()</tspan><tspan x="2671" dy="20">+ size()</tspan><tspan x="2671" dy="20">+ count()</tspan><tspan x="2671" dy="20">+ pushBack()</tspan><tspan x="2671" dy="20">+ pushBack()</tspan><tspan x="2671" dy="20">+ tryPushBack()</tspan><tspan x="2671" dy="20">+ tryPushBack()</tspan><tspan x="2685" dy="20">and 16 more...</tspan></text></g>

<g id="n_list_monitor" class="nd lt"><rect x="2314" y="4173" width="198" height="290"/><path d="M2314,4195h198M2314,4239h198"/><text class="h" x="2413" y="4189">List&lt; File::MonitorTarget * &gt;</text><text y="4212"><tspan x="2320">- m_Count</tspan><tspan x="2320" dy="20">- m_Magic</tspan></text><text y="4256"><tspan x="2320">+ List()</tspan><tspan x="2320" dy="20">+ List()</tspan><tspan x="2320" dy="20">+ ~List()</tspan><tspan x="2320" dy="20">+ operator=()</tspan><tspan x="2320" dy="20">+ size()</tspan><tspan x="2320" dy="20">+ count()</tspan><tspan x="2320" dy="20">+ pushBack()</tspan><tspan x="2320" dy="20">+ pushBack()</tspan><tspan x="2320" dy="20">+ tryPushBack()</tspan><tspan x="2320" dy="20">+ tryPushBack()</tspan><tspan x="2334" dy="20">and 16 more...</tspan></text></g>

<g id="n_list_mount" class="nd lt"><rect x="2547" y="4167" width="181" height="304"/><path d="M2547,4203h181M2547,4247h181"/><text class="h" x="2637" y="4182">List&lt; VFS::MountCallback</text><text class="h" x="2637" y="4196">Item * &gt;</text><text y="4220"><tspan x="2553">- m_Count</tspan><tspan x="2553" dy="20">- m_Magic</tspan></text><text y="4264"><tspan x="2553">+ List()</tspan><tspan x="2553" dy="20">+ List()</tspan><tspan x="2553" dy="20">+ ~List()</tspan><tspan x="2553" dy="20">+ operator=()</tspan><tspan x="2553" dy="20">+ size()</tspan><tspan x="2553" dy="20">+ count()</tspan><tspan x="2553" dy="20">+ pushBack()</tspan><tspan x="2553" dy="20">+ pushBack()</tspan><tspan x="2553" dy="20">+ tryPushBack()</tspan><tspan x="2553" dy="20">+ tryPushBack()</tspan><tspan x="2567" dy="20">and 16 more...</tspan></text></g>

<g id="n_list_probe" class="nd lt"><rect x="3023" y="4165" width="177" height="304"/><path d="M3023,4201h177M3023,4245h177"/><text class="h" x="3111" y="4180">List&lt; VFS::ProbeCallback</text><text class="h" x="3111" y="4194">Item * &gt;</text><text y="4218"><tspan x="3029">- m_Count</tspan><tspan x="3029" dy="20">- m_Magic</tspan></text><text y="4262"><tspan x="3029">+ List()</tspan><tspan x="3029" dy="20">+ List()</tspan><tspan x="3029" dy="20">+ ~List()</tspan><tspan x="3029" dy="20">+ operator=()</tspan><tspan x="3029" dy="20">+ size()</tspan><tspan x="3029" dy="20">+ count()</tspan><tspan x="3029" dy="20">+ pushBack()</tspan><tspan x="3029" dy="20">+ pushBack()</tspan><tspan x="3029" dy="20">+ tryPushBack()</tspan><tspan x="3029" dy="20">+ tryPushBack()</tspan><tspan x="3043" dy="20">and 16 more...</tspan></text></g>

<g id="n_tree_node" class="nd"><rect x="2761" y="4265" width="139" height="110"/><path d="M2761,4287h139M2761,4351h139"/><text class="h" x="2830" y="4281">Tree&lt; K, E &gt;::Node</text><text y="4304"><tspan x="2767">+ key</tspan><tspan x="2767" dy="20">+ element</tspan><tspan x="2767" dy="20">+ height</tspan></text></g>

<g id="n_tree_iter" class="nd"><rect x="2810" y="5097" width="187" height="170"/><path d="M2810,5119h187M2810,5143h187"/><text class="h" x="2903" y="5113">Tree&lt; K, E &gt;::IteratorNode</text><text y="5160"><tspan x="2816">+ IteratorNode()</tspan><tspan x="2816" dy="20">+ IteratorNode()</tspan><tspan x="2816" dy="20">+ next()</tspan><tspan x="2816" dy="20">+ previous()</tspan><tspan x="2816" dy="20">+ reset()</tspan><tspan x="2816" dy="20">- traverseNext()</tspan></text></g>

<g id="n_tree" class="nd"><rect x="2693" y="5734" width="190" height="450"/><path d="M2693,5756h190M2693,5780h190"/><text class="h" x="2788" y="5750">Tree&lt; K, E &gt;</text><text y="5773"><tspan x="2699">- nItems</tspan></text><text y="5797"><tspan x="2699">+ Tree()</tspan><tspan x="2699" dy="20">+ Tree()</tspan><tspan x="2699" dy="20">+ ~Tree()</tspan><tspan x="2699" dy="20">+ operator=()</tspan><tspan x="2699" dy="20">+ count()</tspan><tspan x="2699" dy="20">+ insert()</tspan><tspan x="2699" dy="20">+ insert()</tspan><tspan x="2699" dy="20">+ tryInsert()</tspan><tspan x="2699" dy="20">+ tryInsert()</tspan><tspan x="2699" dy="20">+ lookup()</tspan><tspan x="2713" dy="20">and 13 more...</tspan><tspan x="2699" dy="20">- copyFrom()</tspan><tspan x="2699" dy="20">- rotateLeft()</tspan><tspan x="2699" dy="20">- rotateRight()</tspan><tspan x="2699" dy="20">- height()</tspan><tspan x="2699" dy="20">- balanceFactor()</tspan><tspan x="2699" dy="20">- rebalanceNode()</tspan><tspan x="2699" dy="20">- traverseNode_Insert()</tspan><tspan x="2699" dy="20">- traverseNode_Remove()</tspan><tspan x="2699" dy="20">- createInsertionNode()</tspan></text></g>

<g id="n_lru_slot" class="nd lt"><rect x="3374" y="5119" width="155" height="124"/><path d="M3374,5155h155M3374,5219h155"/><text class="h" x="3451" y="5134">LruCache&lt; K, T, Slots</text><text class="h" x="3451" y="5148">&gt;::Slot</text><text y="5172"><tspan x="3388">+ key</tspan><tspan x="3388" dy="20">+ object</tspan><tspan x="3388" dy="20">+ set</tspan></text></g>

<g id="n_lru" class="nd"><rect x="3511" y="5862" width="169" height="190"/><path d="M3511,5884h169M3511,5928h169"/><text class="h" x="3595" y="5878">LruCache&lt; K, T, Slots &gt;</text><text y="5901"><tspan x="3521">- m_Hits</tspan><tspan x="3521" dy="20">- m_Misses</tspan></text><text y="5945"><tspan x="3521">+ LruCache()</tspan><tspan x="3521" dy="20">+ ~LruCache()</tspan><tspan x="3521" dy="20">+ get()</tspan><tspan x="3521" dy="20">+ store()</tspan><tspan x="3521" dy="20">+ hits()</tspan><tspan x="3521" dy="20">+ misses()</tspan></text></g>

<g id="n_sp_fsctx" class="nd"><rect x="118" y="3604" width="190" height="364"/><path d="M118,3640h190M118,3664h190"/><text class="h" x="213" y="3619">SharedPointer&lt; Filesystem</text><text class="h" x="213" y="3633">Context &gt;</text><text y="3681"><tspan x="130">+ SharedPointer()</tspan><tspan x="130" dy="20">+ SharedPointer()</tspan><tspan x="130" dy="20">+ SharedPointer()</tspan><tspan x="130" dy="20">+ SharedPointer()</tspan><tspan x="130" dy="20">+ ~SharedPointer()</tspan><tspan x="130" dy="20">+ reset()</tspan><tspan x="130" dy="20">+ reset()</tspan><tspan x="130" dy="20">+ get()</tspan><tspan x="130" dy="20">+ operator-&gt;()</tspan><tspan x="130" dy="20">+ operator*()</tspan><tspan x="144" dy="20">and 11 more...</tspan><tspan x="130" dy="20">+ allocate()</tspan><tspan x="130" dy="20">+ tryAllocate()</tspan><tspan x="130" dy="20">+ tryAdopt()</tspan><tspan x="130" dy="20">- release()</tspan></text></g>

<g id="n_sp_attach" class="nd"><rect x="333" y="3612" width="233" height="350"/><path d="M333,3634h233M333,3658h233"/><text class="h" x="449" y="3628">SharedPointer&lt; VfsAttachment &gt;</text><text y="3675"><tspan x="360">+ SharedPointer()</tspan><tspan x="360" dy="20">+ SharedPointer()</tspan><tspan x="360" dy="20">+ SharedPointer()</tspan><tspan x="360" dy="20">+ SharedPointer()</tspan><tspan x="360" dy="20">+ ~SharedPointer()</tspan><tspan x="360" dy="20">+ reset()</tspan><tspan x="360" dy="20">+ reset()</tspan><tspan x="360" dy="20">+ get()</tspan><tspan x="360" dy="20">+ operator-&gt;()</tspan><tspan x="360" dy="20">+ operator*()</tspan><tspan x="374" dy="20">and 11 more...</tspan><tspan x="360" dy="20">+ allocate()</tspan><tspan x="360" dy="20">+ tryAllocate()</tspan><tspan x="360" dy="20">+ tryAdopt()</tspan><tspan x="360" dy="20">- release()</tspan></text></g>

<g id="n_sp_noderef" class="nd"><rect x="595" y="3612" width="256" height="350"/><path d="M595,3634h256M595,3658h256"/><text class="h" x="723" y="3628">SharedPointer&lt; VfsNodeReference &gt;</text><text y="3675"><tspan x="630">+ SharedPointer()</tspan><tspan x="630" dy="20">+ SharedPointer()</tspan><tspan x="630" dy="20">+ SharedPointer()</tspan><tspan x="630" dy="20">+ SharedPointer()</tspan><tspan x="630" dy="20">+ ~SharedPointer()</tspan><tspan x="630" dy="20">+ reset()</tspan><tspan x="630" dy="20">+ reset()</tspan><tspan x="630" dy="20">+ get()</tspan><tspan x="630" dy="20">+ operator-&gt;()</tspan><tspan x="630" dy="20">+ operator*()</tspan><tspan x="644" dy="20">and 11 more...</tspan><tspan x="630" dy="20">+ allocate()</tspan><tspan x="630" dy="20">+ tryAllocate()</tspan><tspan x="630" dy="20">+ tryAdopt()</tspan><tspan x="630" dy="20">- release()</tspan></text></g>

<g id="n_sp_readiness" class="nd"><rect x="878" y="3604" width="186" height="364"/><path d="M878,3640h186M878,3664h186"/><text class="h" x="971" y="3619">SharedPointer&lt; Readiness</text><text class="h" x="971" y="3633">State &gt;</text><text y="3681"><tspan x="890">+ SharedPointer()</tspan><tspan x="890" dy="20">+ SharedPointer()</tspan><tspan x="890" dy="20">+ SharedPointer()</tspan><tspan x="890" dy="20">+ SharedPointer()</tspan><tspan x="890" dy="20">+ ~SharedPointer()</tspan><tspan x="890" dy="20">+ reset()</tspan><tspan x="890" dy="20">+ reset()</tspan><tspan x="890" dy="20">+ get()</tspan><tspan x="890" dy="20">+ operator-&gt;()</tspan><tspan x="890" dy="20">+ operator*()</tspan><tspan x="904" dy="20">and 11 more...</tspan><tspan x="890" dy="20">+ allocate()</tspan><tspan x="890" dy="20">+ tryAllocate()</tspan><tspan x="890" dy="20">+ tryAdopt()</tspan><tspan x="890" dy="20">- release()</tspan></text></g>

<g id="n_sp_fileevent" class="nd"><rect x="1089" y="3604" width="180" height="364"/><path d="M1089,3640h180M1089,3664h180"/><text class="h" x="1179" y="3619">SharedPointer&lt; FileEvent</text><text class="h" x="1179" y="3633">State &gt;</text><text y="3681"><tspan x="1101">+ SharedPointer()</tspan><tspan x="1101" dy="20">+ SharedPointer()</tspan><tspan x="1101" dy="20">+ SharedPointer()</tspan><tspan x="1101" dy="20">+ SharedPointer()</tspan><tspan x="1101" dy="20">+ ~SharedPointer()</tspan><tspan x="1101" dy="20">+ reset()</tspan><tspan x="1101" dy="20">+ reset()</tspan><tspan x="1101" dy="20">+ get()</tspan><tspan x="1101" dy="20">+ operator-&gt;()</tspan><tspan x="1101" dy="20">+ operator*()</tspan><tspan x="1115" dy="20">and 11 more...</tspan><tspan x="1101" dy="20">+ allocate()</tspan><tspan x="1101" dy="20">+ tryAllocate()</tspan><tspan x="1101" dy="20">+ tryAdopt()</tspan><tspan x="1101" dy="20">- release()</tspan></text></g>

<g id="n_vfscontextrow" class="nd lt"><rect x="301" y="4285" width="115" height="70"/><path d="M301,4307h115M301,4331h115"/><text class="h" x="358" y="4301">VfsContextRow</text></g>
<g id="n_vfsattachmentrow" class="nd lt"><rect x="654" y="4285" width="138" height="70"/><path d="M654,4307h138M654,4331h138"/><text class="h" x="723" y="4301">VfsAttachmentRow</text></g>

<g id="n_readinesssource" class="nd"><rect x="920" y="4215" width="180" height="210"/><path d="M920,4237h180M920,4261h180"/><text class="h" x="1010" y="4231">ReadinessSource</text><text y="4278"><tspan x="926">+ ReadinessSource()</tspan><tspan x="926" dy="20">+ ~ReadinessSource()</tspan><tspan x="926" dy="20">+ subscribeReadiness()</tspan><tspan x="926" dy="20">+ readinessGenerations()</tspan><tspan x="926" dy="20"># notifyReadiness()</tspan><tspan x="926" dy="20"># closeReadiness()</tspan><tspan x="926" dy="20">- ReadinessSource()</tspan><tspan x="926" dy="20">- operator=()</tspan></text></g>

<g id="n_fileeventsource" class="nd"><rect x="1205" y="4175" width="188" height="290"/><path d="M1205,4197h188M1205,4221h188"/><text class="h" x="1299" y="4191">FileEventSource</text><text y="4238"><tspan x="1211">+ FileEventSource()</tspan><tspan x="1211" dy="20">+ ~FileEventSource()</tspan><tspan x="1211" dy="20">+ subscribeFileEvents()</tspan><tspan x="1211" dy="20"># hasFileEventObservers()</tspan><tspan x="1211" dy="20"># notifyFileEvent()</tspan><tspan x="1211" dy="20"># notifyFinalFileEvent()</tspan><tspan x="1211" dy="20"># beginFinalFileEvent()</tspan><tspan x="1211" dy="20"># drainFileEvents()</tspan><tspan x="1211" dy="20"># closeFileEvents()</tspan><tspan x="1211" dy="20"># anyFileEventObservers()</tspan><tspan x="1211" dy="20">- FileEventSource()</tspan><tspan x="1211" dy="20">- operator=()</tspan></text></g>

<g id="n_file" class="nd"><rect x="1398" y="4687" width="205" height="990"/><path d="M1398,4709h205M1398,5013h205"/><text class="h" x="1500" y="4703">File</text><text y="4726"><tspan x="1404">+ MaxReadPages</tspan><tspan x="1404" dy="20"># m_AccessedTime</tspan><tspan x="1404" dy="20"># m_ModifiedTime</tspan><tspan x="1404" dy="20"># m_CreationTime</tspan><tspan x="1404" dy="20"># m_Inode</tspan><tspan x="1404" dy="20"># m_FutexIdentity</tspan><tspan x="1404" dy="20"># m_Size</tspan><tspan x="1404" dy="20"># m_bDetachedParentHandled</tspan><tspan x="1404" dy="20"># m_nWriters</tspan><tspan x="1404" dy="20"># m_nReaders</tspan><tspan x="1404" dy="20"># m_Uid</tspan><tspan x="1404" dy="20"># m_Gid</tspan><tspan x="1404" dy="20"># m_Permissions</tspan><tspan x="1404" dy="20"># m_bDirect</tspan><tspan x="1404" dy="20"># m_PhysicalPageLoans</tspan></text><text y="5030"><tspan x="1404">+ File()</tspan><tspan x="1404" dy="20">+ File()</tspan><tspan x="1404" dy="20">+ ~File()</tspan><tspan x="1404" dy="20">+ read()</tspan><tspan x="1404" dy="20">+ readCached()</tspan><tspan x="1404" dy="20">+ write()</tspan><tspan x="1404" dy="20">+ append()</tspan><tspan x="1404" dy="20">+ lockWrites()</tspan><tspan x="1404" dy="20">+ getPhysicalPage()</tspan><tspan x="1404" dy="20">+ isDirectPhysicalMapping()</tspan><tspan x="1418" dy="20">and 81 more...</tspan><tspan x="1404" dy="20"># updateAttributes()</tspan><tspan x="1404" dy="20"># changeOwnership()</tspan><tspan x="1404" dy="20"># allowPhysicalPage()</tspan><tspan x="1404" dy="20"># prepareWrite()</tspan><tspan x="1404" dy="20"># allowResize()</tspan><tspan x="1404" dy="20"># prepareShrink()</tspan><tspan x="1404" dy="20"># resizeFile()</tspan><tspan x="1404" dy="20"># allocateFileRange()</tspan><tspan x="1404" dy="20"># writeSerializationLock()</tspan><tspan x="1404" dy="20"># dataMutationLock()</tspan><tspan x="1418" dy="20">and 30 more...</tspan><tspan x="1404" dy="20"># writeCallback()</tspan><tspan x="1404" dy="20"># fillCacheCallback()</tspan><tspan x="1404" dy="20">- File()</tspan><tspan x="1404" dy="20">- operator=()</tspan><tspan x="1404" dy="20">- publishWriteMetadata()</tspan><tspan x="1404" dy="20">- writeUnlocked()</tspan><tspan x="1404" dy="20">- getCachedPage()</tspan><tspan x="1404" dy="20">- setCachedPage()</tspan><tspan x="1404" dy="20">- readIntoCache()</tspan><tspan x="1404" dy="20">- populateRangeLocked()</tspan><tspan x="1404" dy="20">- releaseReadReference()</tspan></text></g>

<g id="n_trackedfile" class="nd lt"><rect x="1530" y="5914" width="116" height="90"/><path d="M1530,5936h116M1530,5960h116"/><text class="h" x="1588" y="5930">VFS::TrackedFile</text><text y="5953"><tspan x="1536">+ owners</tspan></text><text y="5977"><tspan x="1536">+ TrackedFile()</tspan><tspan x="1536" dy="20">+ retain()</tspan></text></g>

<g id="n_rcu_t" class="nd lt"><rect x="1673" y="5886" width="256" height="150"/><path d="M1673,5908h256M1673,5932h256"/><text class="h" x="1801" y="5902">RcuPointer&lt; T &gt;</text><text y="5925"><tspan x="1679">- m_Pointer</tspan></text><text y="5949"><tspan x="1679">+ RcuPointer()</tspan><tspan x="1679" dy="20">+ NOT_COPYABLE_OR_ASSIGNABLE()</tspan><tspan x="1679" dy="20">+ load()</tspan><tspan x="1679" dy="20">+ loadForUpdate()</tspan><tspan x="1679" dy="20">+ exchange()</tspan></text></g>

<g id="n_rcu_tracked" class="nd lt"><rect x="1620" y="6684" width="255" height="164"/><path d="M1620,6720h255M1620,6744h255"/><text class="h" x="1747" y="6699">RcuPointer&lt; VFS::Tracked</text><text class="h" x="1747" y="6713">File &gt;</text><text y="6761"><tspan x="1626">+ RcuPointer()</tspan><tspan x="1626" dy="20">+ NOT_COPYABLE_OR_ASSIGNABLE()</tspan><tspan x="1626" dy="20">+ load()</tspan><tspan x="1626" dy="20">+ loadForUpdate()</tspan><tspan x="1626" dy="20">+ exchange()</tspan></text></g>

<g id="n_tree_fs" class="nd"><rect x="2750" y="6533" width="186" height="464"/><path d="M2750,6569h186M2750,6593h186"/><text class="h" x="2843" y="6548">Tree&lt; Filesystem *,</text><text class="h" x="2843" y="6562">MountInfo * &gt;</text><text y="6586"><tspan x="2756">- nItems</tspan></text><text y="6610"><tspan x="2756">+ Tree()</tspan><tspan x="2756" dy="20">+ Tree()</tspan><tspan x="2756" dy="20">+ ~Tree()</tspan><tspan x="2756" dy="20">+ operator=()</tspan><tspan x="2756" dy="20">+ count()</tspan><tspan x="2756" dy="20">+ insert()</tspan><tspan x="2756" dy="20">+ insert()</tspan><tspan x="2756" dy="20">+ tryInsert()</tspan><tspan x="2756" dy="20">+ tryInsert()</tspan><tspan x="2756" dy="20">+ lookup()</tspan><tspan x="2770" dy="20">and 13 more...</tspan><tspan x="2756" dy="20">- copyFrom()</tspan><tspan x="2756" dy="20">- rotateLeft()</tspan><tspan x="2756" dy="20">- rotateRight()</tspan><tspan x="2756" dy="20">- height()</tspan><tspan x="2756" dy="20">- balanceFactor()</tspan><tspan x="2756" dy="20">- rebalanceNode()</tspan><tspan x="2756" dy="20">- traverseNode_Insert()</tspan><tspan x="2756" dy="20">- traverseNode_Remove()</tspan><tspan x="2756" dy="20">- createInsertionNode()</tspan></text></g>

<g id="n_lru_string" class="nd"><rect x="3368" y="6671" width="184" height="190"/><path d="M3368,6693h184M3368,6737h184"/><text class="h" x="3460" y="6687">LruCache&lt; String, File * &gt;</text><text y="6710"><tspan x="3378">- m_Hits</tspan><tspan x="3378" dy="20">- m_Misses</tspan></text><text y="6754"><tspan x="3378">+ LruCache()</tspan><tspan x="3378" dy="20">+ ~LruCache()</tspan><tspan x="3378" dy="20">+ get()</tspan><tspan x="3378" dy="20">+ store()</tspan><tspan x="3378" dy="20">+ hits()</tspan><tspan x="3378" dy="20">+ misses()</tspan></text></g>

<g id="n_vfs" class="nd"><rect x="2164" y="7055" width="230" height="722"/><path d="M2164,7077h230M2164,7161h230"/><text class="h" x="2279" y="7071">VFS</text><text y="7094"><tspan x="2170">- m_PathGeneration</tspan><tspan x="2170" dy="20">- m_NextCallbackSequence</tspan><tspan x="2170" dy="20">- m_CallbacksClosing</tspan><tspan x="2170" dy="20">- TrackedFileBuckets</tspan></text><text y="7178"><tspan x="2170">+ namespaceGeneration()</tspan><tspan x="2170" dy="20">+ mountView()</tspan><tspan x="2170" dy="20">+ shutdownMountView()</tspan><tspan x="2170" dy="20">+ initialiseMountView()</tspan><tspan x="2170" dy="20">+ acquireMount()</tspan><tspan x="2170" dy="20">+ pinFilesystem()</tspan><tspan x="2170" dy="20">+ diskMount()</tspan><tspan x="2170" dy="20">+ snapshotDiskMounts()</tspan><tspan x="2170" dy="20">+ VFS()</tspan><tspan x="2170" dy="20">+ ~VFS()</tspan><tspan x="2184" dy="20">and 28 more...</tspan><tspan x="2170" dy="20">+ unloadAdmission()</tspan><tspan x="2170" dy="20">+ instance()</tspan><tspan x="2170" dy="20">+ checkAccess()</tspan><tspan x="2170" dy="20">+ checkAccess()</tspan><tspan x="2170" dy="20">+ checkAccess()</tspan><tspan x="2170" dy="20">- trackedFileBucket()</tspan><tspan x="2170" dy="20">- trackFileLocked()</tspan><tspan x="2170" dy="20">- acquireProbeCallback()</tspan><tspan x="2170" dy="20">- acquireMountCallback()</tspan><tspan x="2170" dy="20">- finishCallback()</tspan><tspan x="2170" dy="20">- drainProbeCallback()</tspan><tspan x="2170" dy="20">- drainMountCallback()</tspan><tspan x="2170" dy="20">- dispatchMountCallbacks()</tspan><tspan x="2170" dy="20">- isCallbackInvocation()</tspan><tspan x="2170" dy="20">- resolveStartNode()</tspan><tspan x="2170" dy="20">- registerFilesystemLocked()</tspan><tspan x="2170" dy="20">- getUniqueStableNameLocked()</tspan><tspan x="2170" dy="20">- attachFilesystem()</tspan><tspan x="2170" dy="20">- attachRegisteredFilesystems</tspan><tspan x="2184" dy="14">Locked()</tspan></text></g>

<g id="n_mountview_state" class="nd gr"><rect x="704" y="5016" width="150" height="330"/><path d="M704,5038h150M704,5122h150"/><text class="h" x="779" y="5032">VfsMountView::State</text><text y="5055"><tspan x="716">+ contextCount</tspan><tspan x="716" dy="20">+ topology</tspan><tspan x="716" dy="20">+ rootId</tspan><tspan x="716" dy="20">+ nextId</tspan></text><text y="5139"><tspan x="716">+ State()</tspan><tspan x="716" dy="20">+ ~State()</tspan><tspan x="716" dy="20">+ find()</tspan><tspan x="716" dy="20">+ at()</tspan><tspan x="716" dy="20">+ contains()</tspan><tspan x="716" dy="20">+ nodePath()</tspan><tspan x="716" dy="20">+ path()</tspan><tspan x="716" dy="20">+ makePath()</tspan><tspan x="716" dy="20">+ context()</tspan><tspan x="716" dy="20">+ createContext()</tspan><tspan x="730" dy="20">and 9 more...</tspan></text></g>

<g id="n_mountview" class="nd"><rect x="1148" y="6205" width="161" height="310"/><path d="M1148,6227h161M1148,6251h161"/><text class="h" x="1228" y="6221">VfsMountView</text><text y="6268"><tspan x="1154">+ VfsMountView()</tspan><tspan x="1154" dy="20">+ ~VfsMountView()</tspan><tspan x="1154" dy="20">+ initialise()</tspan><tspan x="1154" dy="20">+ createBootContext()</tspan><tspan x="1154" dy="20">+ resolve()</tspan><tspan x="1154" dy="20">+ follow()</tspan><tspan x="1154" dy="20">+ resolveParent()</tspan><tspan x="1154" dy="20">+ changeCwd()</tspan><tspan x="1154" dy="20">+ changeRoot()</tspan><tspan x="1154" dy="20">+ formatPath()</tspan><tspan x="1168" dy="20">and 18 more...</tspan><tspan x="1154" dy="20">- VfsMountView()</tspan><tspan x="1154" dy="20">- operator=()</tspan></text></g>
</svg>
